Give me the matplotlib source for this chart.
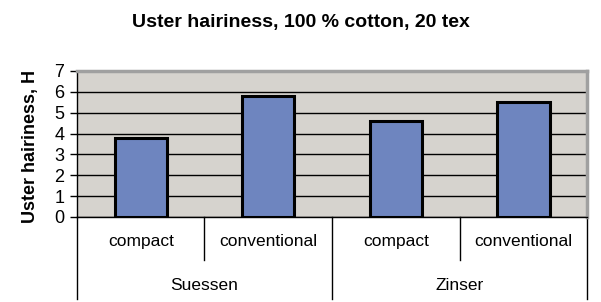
import matplotlib.pyplot as plt
import matplotlib.transforms as mtransforms

plt.rcParams['font.family'] = ['Liberation Sans', 'DejaVu Sans']

# data
categories = ['compact', 'conventional', 'compact', 'conventional']
groups = ['Suessen', 'Zinser']
hairiness = [3.8, 5.8, 4.6, 5.5]
yticks = [0, 1, 2, 3, 4, 5, 6, 7]

fig = plt.figure(figsize=(6.01, 3.02), dpi=100)
ax = fig.add_axes([0.128, 0.2815, 0.849, 0.4835])
ax.set_facecolor('#d6d3ce')

x = list(range(len(categories)))
ax.bar(x, hairiness, width=0.41, color='#6e85bf', edgecolor='black', linewidth=2.2, zorder=3)

ax.set_xlim(-0.5, len(categories) - 0.5)
ax.set_ylim(0, 7)
ax.set_yticks(yticks)
ax.tick_params(axis='y', labelsize=13, length=5, width=1, pad=4)
ax.set_xticks([])
ax.yaxis.grid(True, color='black', linewidth=1)
ax.set_axisbelow(True)

ax.spines['top'].set_color('#a0a0a0')
ax.spines['top'].set_linewidth(2.5)
ax.spines['right'].set_color('#a0a0a0')
ax.spines['right'].set_linewidth(2.5)
ax.spines['left'].set_linewidth(1)
ax.spines['bottom'].set_linewidth(1)

# category axis below the plot
trans = mtransforms.blended_transform_factory(ax.transData, ax.transAxes)
for i, name in enumerate(categories):
	ax.text(i, -0.17, name, transform=trans, ha='center', va='center', fontsize=12.5)
for i in range(len(categories) + 1):
	if i % 2 == 0:
		bottom = -0.562
	else:
		bottom = -0.295
	ax.plot([i - 0.5, i - 0.5], [0, bottom], color='black', linewidth=1, transform=trans, clip_on=False)
for g, name in enumerate(groups):
	ax.text(2 * g + 0.5, -0.47, name, transform=trans, ha='center', va='center', fontsize=12.5)

fig.text(0.05, 0.515, 'Uster hairiness, H', rotation=90, ha='center', va='center', fontsize=13, fontweight='bold')
fig.text(0.5, 0.924, 'Uster hairiness, 100 % cotton, 20 tex', ha='center', va='center', fontsize=14, fontweight='bold')

fig.savefig('out.png', dpi=100, facecolor='white')
plt.close()
